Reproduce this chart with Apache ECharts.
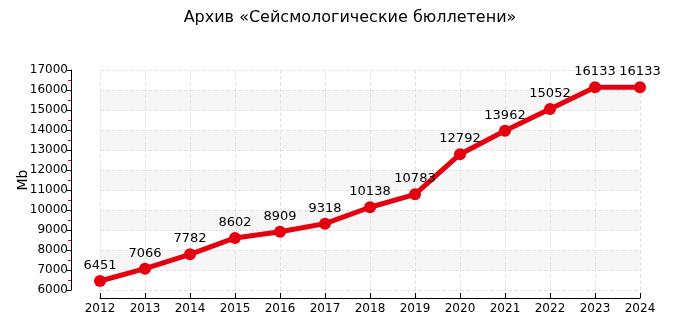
<!DOCTYPE html>
<html><head><meta charset="utf-8">
<script src="https://cdn.jsdelivr.net/npm/echarts@6/dist/echarts.min.js"></script>
<style>html,body{margin:0;padding:0;background:#fff}#c{width:700px;height:325px}</style>
</head><body><div id="c"></div>
<script>
var years = ['2012','2013','2014','2015','2016','2017','2018','2019','2020','2021','2022','2023','2024'];
var sizes = [6451,7066,7782,8602,8909,9318,10138,10783,12792,13962,15052,16133,16133];
var titleText = 'Архив «Сейсмологические бюллетени»';
var yName = 'Mb';
var font = 'DejaVu Sans';
var chart = echarts.init(document.getElementById('c'), null, {renderer:'canvas'});
chart.setOption({
  animation:false,
  backgroundColor:'#fff',
  title:{text:titleText,left:'center',top:5,textStyle:{fontFamily:font,fontSize:16,fontWeight:'normal',color:'#000'}},
  grid:{left:100,right:60,top:70,bottom:35,containLabel:false,outerBoundsMode:'none'},
  xAxis:{type:'category',data:years,boundaryGap:false,offset:8,
    axisLine:{lineStyle:{color:'#000',width:1}},
    axisTick:{show:true,inside:true,length:5,lineStyle:{color:'#000'}},
    axisLabel:{fontFamily:font,fontSize:12,color:'#000',margin:5},
    splitLine:{show:true,lineStyle:{color:'#e4e4e4',type:'dashed'}}},
  yAxis:{type:'value',min:6000,max:17000,interval:1000,offset:29,
    name:yName,nameLocation:'middle',nameGap:41,nameMoveOverlap:false,nameTextStyle:{fontFamily:font,fontSize:14,color:'#000'},
    axisLine:{show:true,lineStyle:{color:'#000',width:1}},
    axisTick:{show:true,length:4,lineStyle:{color:'#000'}},
    minorTick:{show:true,splitNumber:2,length:3,lineStyle:{color:'#e00000'}},
    axisLabel:{fontFamily:font,fontSize:12,color:'#000',margin:3,formatter:function(v){return String(v);}},
    splitLine:{show:true,lineStyle:{color:'#e4e4e4',type:'dashed'}},
    splitArea:{show:true,areaStyle:{color:['rgba(255,255,255,0)','#f6f6f6']}}},
  series:[{type:'line',data:sizes,symbol:'circle',symbolSize:12,
    lineStyle:{color:'#e50010',width:5},itemStyle:{color:'#e50010'},
    label:{show:true,position:'top',distance:3,fontFamily:font,fontSize:13,color:'#000'}}]
});
</script></body></html>
